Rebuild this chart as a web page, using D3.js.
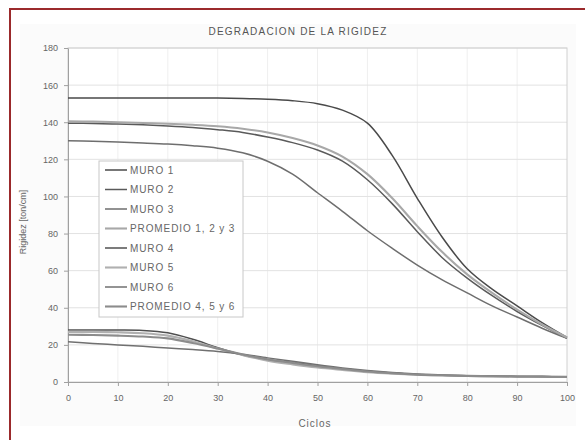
<!DOCTYPE html>
<html>
<head>
<meta charset="utf-8">
<script src="https://cdn.jsdelivr.net/npm/d3@7"></script>
<style>
  body { margin: 0; background: #fff; }
  svg { display: block; font-family: "Liberation Sans", Arial, sans-serif; }
</style>
</head>
<body>
<div id="chart"></div>
<script>
// data
var ciclos = [0,5,10,15,20,25,30,35,40,45,50,55,60,65,70,75,80,85,90,95,100];

var muro1 = [153,153,153,153,153,153,153,152.8,152.4,151.6,150,146.5,139.5,122,99,78,61,50,41,32,24];
var muro2 = [139.5,139.3,139,138.6,138,137.2,136,134.5,132,129,125,119,109,96,81,67,56,46.5,38,30.5,23.5];
var muro3 = [130,129.7,129.3,128.8,128.2,127.3,126,123.5,119,112,102,92,81.5,72,63,55,48,41,35,29,23.5];
var prom123 = [140.5,140.3,140,139.6,139.2,138.6,137.8,136.5,134.5,131.5,127.5,121.5,112,99,84,70,58,48,39,31,24];

var muro4 = [28,28,28,27.8,26.5,23,18.5,14.5,12,10.5,8.8,7.2,5.8,4.8,4.1,3.6,3.3,3.1,3,2.9,2.8];
var muro5 = [27,27,26.8,26.3,25,22,18,14.5,11.5,9.5,7.8,6.5,5.3,4.5,3.9,3.5,3.2,3,2.9,2.8,2.7];
var muro6 = [21.7,20.8,20,19.2,18.3,17.5,16.5,15,13,11.2,9.3,7.6,6.2,5.1,4.3,3.8,3.4,3.2,3,2.9,2.8];
var prom456 = [25.5,25.3,25,24.5,23.5,21,18,14.8,12.2,10.3,8.5,7,5.7,4.7,4,3.6,3.3,3.1,3,2.9,2.8];

var nombres = ["MURO 1","MURO 2","MURO 3","PROMEDIO 1, 2 y 3","MURO 4","MURO 5","MURO 6","PROMEDIO 4, 5 y 6"];
var series = [muro1, muro2, muro3, prom123, muro4, muro5, muro6, prom456];
var colores = ["#4a4a4a","#5a5a5a","#6e6e6e","#a8a8a8","#505050","#b0b0b0","#707070","#8c8c8c"];
var grosores = [1.5,1.5,1.5,2.1,1.5,2.1,1.5,2.1];

var yTicks = [0,20,40,60,80,100,120,140,160,180];
var xTicks = [0,10,20,30,40,50,60,70,80,90,100];

var width = 585, height = 440;
var margin = {top: 48, right: 18, bottom: 58, left: 68};
var w = width - margin.left - margin.right,
    h = height - margin.top - margin.bottom;

var svg = d3.select("#chart").append("svg")
  .attr("width", width)
  .attr("height", height);

// frame
svg.append("rect")
  .attr("x", 20).attr("y", 24)
  .attr("width", 556).attr("height", 402)
  .attr("fill", "#fbfbfb");
svg.append("rect")
  .attr("x", 10).attr("y", 9)
  .attr("width", 620).attr("height", 460)
  .attr("fill", "none")
  .attr("stroke", "#9b2a2c")
  .attr("stroke-width", 2);

var g = svg.append("g")
  .attr("transform", "translate(" + margin.left + "," + margin.top + ")");

var x = d3.scaleLinear().domain([0, 100]).range([0, w]);
var y = d3.scaleLinear().domain([0, 180]).range([h, 0]);

g.append("rect")
  .attr("width", w).attr("height", h)
  .attr("fill", "#fff");

// grid
g.append("g")
  .selectAll("line")
  .data(xTicks.slice(1, -1))
  .enter().append("line")
  .attr("x1", function(d) { return x(d); })
  .attr("x2", function(d) { return x(d); })
  .attr("y1", 0).attr("y2", h)
  .attr("stroke", "#efefef");

g.append("g")
  .selectAll("line")
  .data(yTicks.slice(1))
  .enter().append("line")
  .attr("x1", 0).attr("x2", w)
  .attr("y1", function(d) { return y(d); })
  .attr("y2", function(d) { return y(d); })
  .attr("stroke", "#e2e2e2");

g.append("rect")
  .attr("width", w).attr("height", h)
  .attr("fill", "none")
  .attr("stroke", "#d0d0d0");

// axes
var xAxis = g.append("g")
  .attr("transform", "translate(0," + h + ")")
  .call(d3.axisBottom(x).tickValues(xTicks).tickSize(4).tickSizeOuter(0).tickPadding(9));
var yAxis = g.append("g")
  .call(d3.axisLeft(y).tickValues(yTicks).tickSize(4).tickSizeOuter(0).tickPadding(6));

[xAxis, yAxis].forEach(function(a) {
  a.select(".domain").attr("stroke", "#a0a0a0");
  a.selectAll(".tick line").attr("stroke", "#a0a0a0");
  a.selectAll("text")
    .attr("fill", "#666")
    .style("font-size", "9px")
    .style("font-family", "'Liberation Sans', Arial, sans-serif");
});

// lines
var line = d3.line()
  .curve(d3.curveCatmullRom.alpha(0.5))
  .x(function(d, i) { return x(ciclos[i]); })
  .y(function(d) { return y(d); });

g.selectAll(".serie")
  .data(series)
  .enter().append("path")
  .attr("class", "serie")
  .attr("fill", "none")
  .attr("stroke", function(d, i) { return colores[i]; })
  .attr("stroke-width", function(d, i) { return grosores[i]; })
  .attr("d", line);

// legend
var lg = svg.append("g").attr("transform", "translate(99,161)");
lg.append("rect")
  .attr("width", 144).attr("height", 156)
  .attr("fill", "#fff")
  .attr("stroke", "#c8c8c8");

var item = lg.selectAll(".item")
  .data(nombres)
  .enter().append("g")
  .attr("class", "item")
  .attr("transform", function(d, i) { return "translate(0," + (9 + i * 19.5) + ")"; });

item.append("line")
  .attr("x1", 6).attr("x2", 28)
  .attr("stroke", function(d, i) { return colores[i]; })
  .attr("stroke-width", function(d, i) { return grosores[i]; });

item.append("text")
  .attr("x", 31).attr("dy", "0.35em")
  .attr("fill", "#666")
  .style("font-size", "10px")
  .style("letter-spacing", "0.9px")
  .text(function(d) { return d; });

// titles
svg.append("text")
  .attr("x", 298).attr("y", 35)
  .attr("text-anchor", "middle")
  .attr("fill", "#555")
  .style("font-size", "10px")
  .style("letter-spacing", "1.2px")
  .text("DEGRADACION DE LA RIGIDEZ");

svg.append("text")
  .attr("x", 315).attr("y", 427)
  .attr("text-anchor", "middle")
  .attr("fill", "#666")
  .style("font-size", "10px")
  .style("letter-spacing", "1px")
  .text("Ciclos");

svg.append("text")
  .attr("transform", "translate(26,222) rotate(-90)")
  .attr("text-anchor", "middle")
  .attr("fill", "#666")
  .style("font-size", "9px")
  .text("Rigidez [ton/cm]");
</script>
</body>
</html>
